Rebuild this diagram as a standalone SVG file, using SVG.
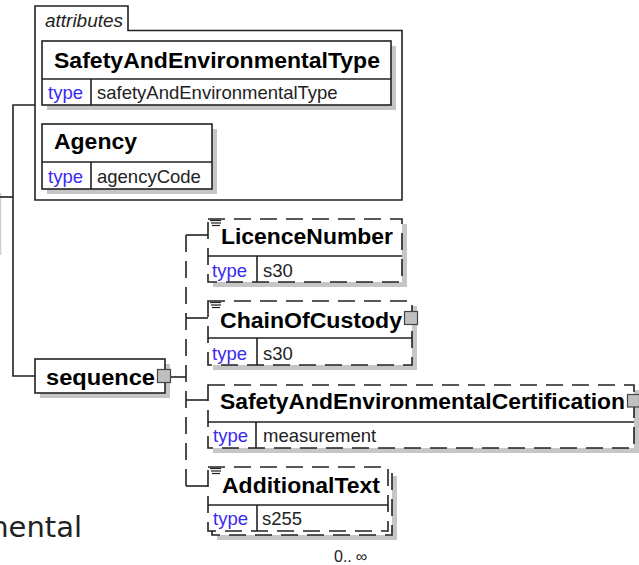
<svg xmlns="http://www.w3.org/2000/svg" width="639" height="565" viewBox="0 0 639 565">
<style>
.box{fill:#fff;stroke:#222;stroke-width:1.6}
.opt{stroke-dasharray:17 9}
.sh{fill:#c6c6c6}
.ln{fill:none;stroke:#222;stroke-width:1.6}
.t{font-family:"Liberation Sans",Arial,sans-serif;font-weight:bold;font-size:22px;fill:#000}
.k{font-family:"Liberation Sans",Arial,sans-serif;font-size:18.5px;fill:#3a2af0}
.v{font-family:"Liberation Sans",Arial,sans-serif;font-size:18.5px;fill:#222}
.sq{fill:#c0c0c0;stroke:#444;stroke-width:1.2}
.ic{stroke:#222;stroke-width:1.2}
</style>
<rect width="639" height="565" fill="#fff"/>

<g id="connectors" class="ln">
  <line x1="0.5" y1="193" x2="0.5" y2="255" stroke="#cfcfcf" stroke-width="1.5"/>
  <polyline points="0,197 13,197"/>
  <polyline points="35,105 13,105 13,376 35,376"/>
  <line x1="171" y1="377" x2="186" y2="377"/>
  <line x1="186" y1="235" x2="186" y2="486" class="opt"/>
  <line x1="186" y1="235" x2="208" y2="235"/>
  <line x1="186" y1="318" x2="208" y2="318"/>
  <line x1="186" y1="400" x2="208" y2="400"/>
  <line x1="186" y1="486" x2="208" y2="486"/>
</g>

<g id="attributes">
  <path d="M35,200 V6 H128 V30.5 H402 V200 Z" fill="#fff" stroke="#222" stroke-width="1.6"/>
  <text x="45" y="27" font-family="Liberation Sans,Arial,sans-serif" font-style="italic" font-size="17.5" fill="#222" textLength="78" lengthAdjust="spacingAndGlyphs">attributes</text>
</g>

<g id="SafetyAndEnvironmentalType">
  <rect class="sh" x="47" y="46" width="349" height="64"/>
  <rect class="box" x="42" y="41" width="349" height="64"/>
  <line class="ln" x1="42" y1="79" x2="391" y2="79"/>
  <line class="ln" x1="91" y1="79" x2="91" y2="105"/>
  <text class="t" x="54" y="68" textLength="326" lengthAdjust="spacingAndGlyphs">SafetyAndEnvironmentalType</text>
  <text class="k" x="48" y="99">type</text>
  <text class="v" x="97" y="99">safetyAndEnvironmentalType</text>
</g>

<g id="Agency">
  <rect class="sh" x="47" y="129" width="170" height="65"/>
  <rect class="box" x="42" y="124" width="170" height="65"/>
  <line class="ln" x1="42" y1="162" x2="212" y2="162"/>
  <line class="ln" x1="91" y1="162" x2="91" y2="189"/>
  <text class="t" x="54" y="149" textLength="83" lengthAdjust="spacingAndGlyphs">Agency</text>
  <text class="k" x="48" y="183">type</text>
  <text class="v" x="97" y="183">agencyCode</text>
</g>

<g id="sequence">
  <rect class="sh" x="40" y="364" width="130" height="34"/>
  <rect class="box" x="35" y="359" width="130" height="34"/>
  <text class="t" x="46" y="385" textLength="109" lengthAdjust="spacingAndGlyphs">sequence</text>
  <rect class="sq" x="157.5" y="369.5" width="13" height="13"/>
</g>

<g id="LicenceNumber">
  <rect class="sh" x="213" y="224" width="194" height="63"/>
  <rect class="box opt" x="208" y="219" width="194" height="63"/>
  <line class="ln" x1="208" y1="256" x2="402" y2="256"/>
  <line class="ln" x1="257" y1="256" x2="257" y2="282"/>
  <g class="ic"><line x1="210" y1="220.5" x2="221" y2="220.5"/><line x1="211" y1="223" x2="221" y2="223"/><line x1="212" y1="225.5" x2="220" y2="225.5"/></g>
  <text class="t" x="221" y="244" textLength="172" lengthAdjust="spacingAndGlyphs">LicenceNumber</text>
  <text class="k" x="212" y="277">type</text>
  <text class="v" x="263" y="277">s30</text>
</g>

<g id="ChainOfCustody">
  <rect class="sh" x="213" y="306" width="204" height="64"/>
  <rect class="box opt" x="208" y="301" width="204" height="64"/>
  <line class="ln" x1="208" y1="338" x2="412" y2="338"/>
  <line class="ln" x1="257" y1="338" x2="257" y2="365"/>
  <g class="ic"><line x1="210" y1="302.5" x2="221" y2="302.5"/><line x1="211" y1="305" x2="221" y2="305"/><line x1="212" y1="307.5" x2="220" y2="307.5"/></g>
  <text class="t" x="220" y="328" textLength="182" lengthAdjust="spacingAndGlyphs">ChainOfCustody</text>
  <text class="k" x="212" y="360">type</text>
  <text class="v" x="263" y="360">s30</text>
  <rect class="sq" x="404.5" y="311.5" width="13" height="13"/>
</g>

<g id="SafetyAndEnvironmentalCertification">
  <rect class="sh" x="213" y="390" width="426" height="63"/>
  <rect class="box opt" x="208" y="385" width="426" height="63"/>
  <line class="ln" x1="208" y1="422" x2="634" y2="422"/>
  <line class="ln" x1="256" y1="422" x2="256" y2="448"/>
  <text class="t" x="220" y="409" textLength="405" lengthAdjust="spacingAndGlyphs">SafetyAndEnvironmentalCertification</text>
  <text class="k" x="213" y="442">type</text>
  <text class="v" x="263" y="442">measurement</text>
  <rect class="sq" x="627.5" y="394.5" width="12" height="12.5"/>
</g>

<g id="AdditionalText">
  <rect class="sh" x="217" y="476" width="180" height="64"/>
  <rect class="box opt" x="212" y="471" width="180" height="64"/>
  <rect class="box opt" x="208" y="467" width="180" height="64"/>
  <line class="ln" x1="208" y1="505" x2="388" y2="505"/>
  <line class="ln" x1="257" y1="505" x2="257" y2="531"/>
  <g class="ic"><line x1="210" y1="468.5" x2="221" y2="468.5"/><line x1="211" y1="471" x2="221" y2="471"/><line x1="212" y1="473.5" x2="220" y2="473.5"/></g>
  <text class="t" x="222" y="493" textLength="158" lengthAdjust="spacingAndGlyphs">AdditionalText</text>
  <text class="k" x="213" y="525">type</text>
  <text class="v" x="262" y="525">s255</text>
  <text x="334" y="562" font-family="Liberation Sans,Arial,sans-serif" font-size="16" fill="#222">0..<tspan dx="4">∞</tspan></text>
</g>

<text x="82" y="537" text-anchor="end" font-family="DejaVu Sans,Verdana,sans-serif" font-size="29" fill="#222">nental</text>
</svg>
